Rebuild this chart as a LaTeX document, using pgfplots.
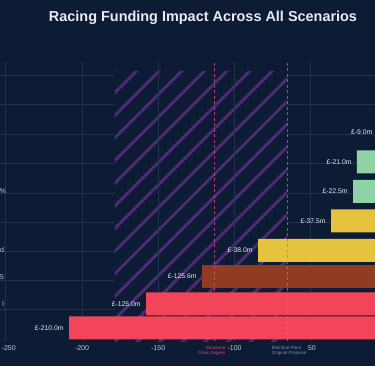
\documentclass[border=0pt]{standalone}
\usepackage{fontspec}
\setmainfont{Liberation Sans}
\usepackage{pgfplots}
\pgfplotsset{compat=1.18}
\usetikzlibrary{patterns.meta}
\definecolor{bg}{HTML}{0D1B35}
\definecolor{gridc}{HTML}{21314F}
\definecolor{redc}{HTML}{F2455A}
\definecolor{brownc}{HTML}{8F3C22}
\definecolor{yellowc}{HTML}{E5C33C}
\definecolor{greenc}{HTML}{8ED3A6}
\definecolor{hatchc}{HTML}{4B2C74}
\definecolor{pinkc}{HTML}{D94A7E}
\definecolor{dashc}{HTML}{7E8FA8}
\definecolor{tickc}{HTML}{C3CAD5}
\definecolor{titlec}{HTML}{E8ECF2}
\begin{document}
\begin{tikzpicture}[x=1pt,y=1pt]
\useasboundingbox (0,0) rectangle (375,366);
\fill[bg] (0,0) rectangle (375,366);
\clip (0,0) rectangle (375,366);
\node[text=titlec, inner sep=0pt] at (203,348) {\resizebox{308pt}{!}{\bfseries Racing Funding Impact Across All Scenarios}};
\begin{axis}[
  scale only axis, width=420pt, height=279pt,
  at={(-20pt,24pt)}, anchor=south west,
  xmin=-266.9, xmax=8.5, ymin=63, ymax=342, y dir=reverse,
  clip=false,
  axis line style={draw=none}, tick style={draw=none},
  xtick={-250,-200,-150,-100,-50},
  xticklabels={\hspace*{6pt}-250,-200,-150,-100,-50},
  xticklabel style={font=\fontsize{7}{8}\selectfont, text=tickc, yshift=-0.5pt},
  ytick=\empty,
  xbar, bar width=23, bar shift=0pt,
  nodes near coords, point meta=explicit symbolic,
  every node near coord/.append style={anchor=east, font=\fontsize{6.8}{8}\selectfont, text=titlec, xshift=-2pt},
  gridline/.style={xbar=false, sharp plot, nodes near coords={}, color=gridc, line width=0.6pt, forget plot},
]
% horizontal grid lines
\addplot[gridline] coordinates {(-266.9,75) (8.5,75)};
\addplot[gridline] coordinates {(-266.9,104) (8.5,104)};
\addplot[gridline] coordinates {(-266.9,134) (8.5,134)};
\addplot[gridline] coordinates {(-266.9,163) (8.5,163)};
\addplot[gridline] coordinates {(-266.9,193) (8.5,193)};
\addplot[gridline] coordinates {(-266.9,222) (8.5,222)};
\addplot[gridline] coordinates {(-266.9,251) (8.5,251)};
\addplot[gridline] coordinates {(-266.9,280) (8.5,280)};
\addplot[gridline] coordinates {(-266.9,309) (8.5,309)};
% hatched zone
\addplot[xbar=false, sharp plot, draw=none, nodes near coords={}, fill=bg] coordinates {(-178.4,72) (-65.6,72) (-65.6,342) (-178.4,342) (-178.4,72)};
\addplot[xbar=false, sharp plot, draw=none, nodes near coords={}, pattern={Lines[angle=45, distance=16pt, line width=3pt]}, pattern color=hatchc] coordinates {(-178.4,72) (-65.6,72) (-65.6,342) (-178.4,342) (-178.4,72)};
% vertical grid lines
\addplot[gridline] coordinates {(-250,63) (-250,342)};
\addplot[gridline] coordinates {(-200,63) (-200,342)};
\addplot[gridline] coordinates {(-150,63) (-150,342)};
\addplot[gridline] coordinates {(-100,63) (-100,342)};
\addplot[gridline] coordinates {(-50,63) (-50,342)};
\addplot[gridline] coordinates {(0,63) (0,342)};
% bars
\addplot[fill=greenc, draw=none] coordinates {(-6,132) [£-9.0m] (-19.7,162) [£-21.0m] (-22.3,191.5) [£-22.5m]};
\addplot[fill=yellowc, draw=none] coordinates {(-36.7,221) [£-37.5m] (-84.6,250.5) [£-38.0m]};
\addplot[fill=brownc, draw=none] coordinates {(-121.3,276.5) [£-125.6m]};
\addplot[fill=redc, draw=none] coordinates {(-158,304) [£-125.0m] (-208.5,328) [£-210.0m]};
% reference lines
\addplot[xbar=false, sharp plot, nodes near coords={}, pinkc, opacity=0.8, line width=0.7pt, dash pattern=on 3pt off 2.5pt] coordinates {(-113.4,63) (-113.4,342)};
\addplot[xbar=false, sharp plot, nodes near coords={}, dashc, opacity=0.7, line width=0.7pt, dash pattern=on 3pt off 2.5pt] coordinates {(-65.6,63) (-65.6,342)};
\coordinate (sc) at (axis cs:-105.6,351);
\coordinate (bp) at (axis cs:-76.1,351);
\coordinate (l1) at (axis cs:-249.6,191.5);
\coordinate (l2) at (axis cs:-251.1,250.5);
\coordinate (l3) at (axis cs:-251.1,277);
\coordinate (l4) at (axis cs:-251.1,304);
\end{axis}
\node[anchor=east, align=right, font=\fontsize{4.5}{5.5}\selectfont, text=pinkc, inner sep=0.6pt, fill=bg] at (sc) {Structural\\Crisis Degree};
\node[anchor=west, align=left, font=\fontsize{4.5}{5.5}\selectfont, text=dashc, inner sep=0.6pt, fill=bg] at (bp) {Bills Brat Point\\Original Proposal};
\foreach \p/\t in {l1/\%, l2/d, l3/5, l4/l}
  \node[anchor=east, inner sep=0pt, font=\fontsize{7}{8}\selectfont, text=tickc] at (\p) {\t};
\end{tikzpicture}
\end{document}
